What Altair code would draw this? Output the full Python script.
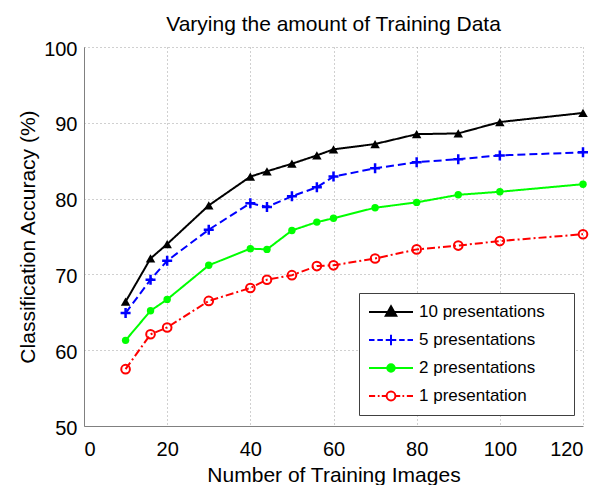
import altair as alt
import pandas as pd

# ---- data ----
x_images = [10, 16, 20, 30, 40, 44, 50, 56, 60, 70, 80, 90, 100, 120]
acc_10 = [66.4, 72.1, 74.0, 79.1, 82.9, 83.6, 84.6, 85.7, 86.5, 87.2, 88.5, 88.6, 90.1, 91.3]
acc_5 = [64.9, 69.3, 71.8, 75.9, 79.4, 78.9, 80.3, 81.5, 82.9, 84.0, 84.8, 85.2, 85.7, 86.1]
acc_2 = [61.3, 65.2, 66.7, 71.2, 73.4, 73.3, 75.8, 76.9, 77.4, 78.8, 79.5, 80.5, 80.9, 81.9]
acc_1 = [57.5, 62.1, 63.0, 66.5, 68.2, 69.3, 69.9, 71.1, 71.2, 72.1, 73.3, 73.8, 74.4, 75.3]
series_names = ["10 presentations", "5 presentations", "2 presentations", "1 presentation"]
x_ticks = [0, 20, 40, 60, 80, 100, 120]
y_ticks = [50, 60, 70, 80, 90, 100]

colors = ["#000000", "#0000ff", "#00ff00", "#ff0000"]
dashes = [[1, 0], [8, 4], [1, 0], [8, 3, 2, 3]]
fills = ["#000000", "#0000ff", "#00ff00", "transparent"]

rows = []
for name, vals in zip(series_names, [acc_10, acc_5, acc_2, acc_1]):
    for xv, yv in zip(x_images, vals):
        rows.append({"x": xv, "acc": yv, "series": name})
df = pd.DataFrame(rows)

FONT = "Liberation Sans"

xenc = alt.X("x:Q", scale=alt.Scale(domain=[0, 120], nice=False),
             axis=alt.Axis(values=x_ticks, title="Number of Training Images"))
yenc = alt.Y("acc:Q", scale=alt.Scale(domain=[50, 100], nice=False),
             axis=alt.Axis(values=y_ticks, title="Classification Accuracy (%)"))

base = alt.Chart(df)

lines = base.mark_line(strokeWidth=2).encode(
    x=xenc, y=yenc,
    color=alt.Color("series:N", scale=alt.Scale(domain=series_names, range=colors), legend=None),
    strokeDash=alt.StrokeDash("series:N", scale=alt.Scale(domain=series_names, range=dashes), legend=None),
)

plus_path = "M-1,0H1M0,-1V1"
marker_specs = [
    dict(shape="triangle-up", size=90, filled=True, color="#000000", strokeWidth=1),
    dict(shape=plus_path, size=100, filled=False, color="#0000ff", strokeWidth=2.5),
    dict(shape="circle", size=55, filled=True, color="#00ff00", strokeWidth=1),
    dict(shape="circle", size=75, filled=False, color="#ff0000", strokeWidth=2),
]
point_layers = []
for name, spec in zip(series_names, marker_specs):
    point_layers.append(
        base.transform_filter(alt.datum.series == name)
        .mark_point(opacity=1, **spec)
        .encode(x="x:Q", y="acc:Q")
    )

# legend symbols: line + marker combined in a custom path (x in [-1, 1])
legend_paths = [
    "M-1,0H1M0,-0.26L0.24,0.17L-0.24,0.17Z",
    "M-1,0H-0.75M-0.62,0H-0.37M-0.24,0H0.24M0,-0.24V0.24M0.37,0H0.62M0.75,0H1",
    "M-1,0H1M0.17,0A0.17,0.17 0 1,1 -0.17,0A0.17,0.17 0 1,1 0.17,0Z",
    "M-1,0H-0.72M-0.6,0H-0.52M-0.42,0H-0.2M0.2,0A0.2,0.2 0 1,1 -0.2,0A0.2,0.2 0 1,1 0.2,0ZM0.2,0H0.42M0.52,0H0.6M0.72,0H1",
]


def lookup_expr(values):
    names = ",".join("'" + n + "'" for n in series_names)
    vals = ",".join("'" + v + "'" for v in values)
    return f"[{vals}][indexof([{names}], datum.value)]"


leg = alt.Legend(
    title="\u00a0", titleOrient="right", titlePadding=20, titleFontSize=10,
    orient="none", legendX=275, legendY=246, padding=9,
    fillColor="white", strokeColor="#404040",
    labelFont=FONT, labelFontSize=17, labelColor="black", labelOffset=5, labelLimit=400,
    clipHeight=20, rowPadding=8, symbolSize=1936, symbolStrokeWidth=2,
)

legend_layer = base.transform_filter("false").mark_point(
    size=1936, strokeWidth=2, opacity=1,
    stroke=alt.ExprRef(expr=lookup_expr(colors)),
    fill=alt.ExprRef(expr=lookup_expr(fills)),
).encode(
    x="x:Q", y="acc:Q",
    shape=alt.Shape("series:N", scale=alt.Scale(domain=series_names, range=legend_paths), legend=leg),
)

chart = alt.layer(lines, *point_layers, legend_layer).resolve_scale(
    shape="independent"
).properties(
    width=499, height=379,
    autosize=alt.AutoSizeParams(type="none"),
    padding={"left": 76, "top": 39, "right": 20, "bottom": 59},
    title=alt.TitleParams("Varying the amount of Training Data", font=FONT, fontSize=21,
                          fontWeight="normal", color="black", frame="group", offset=15, dy=11),
).configure_view(strokeWidth=0).configure_axis(
    domainColor="#808080", domainWidth=1,
    grid=True, gridColor="#a0a0a0", gridDash=[1, 3], gridWidth=1,
    ticks=False, tickSize=0,
    labelFont=FONT, labelFontSize=20, labelColor="black",
    titleFont=FONT, titleFontSize=21, titleFontWeight="normal", titleColor="black",
).configure_axisX(labelPadding=13, titlePadding=5).configure_axisY(
    labelPadding=7, titlePadding=5, labelOffset=2
)

chart.save("out.html", embed_options={"renderer": "svg", "actions": False})
